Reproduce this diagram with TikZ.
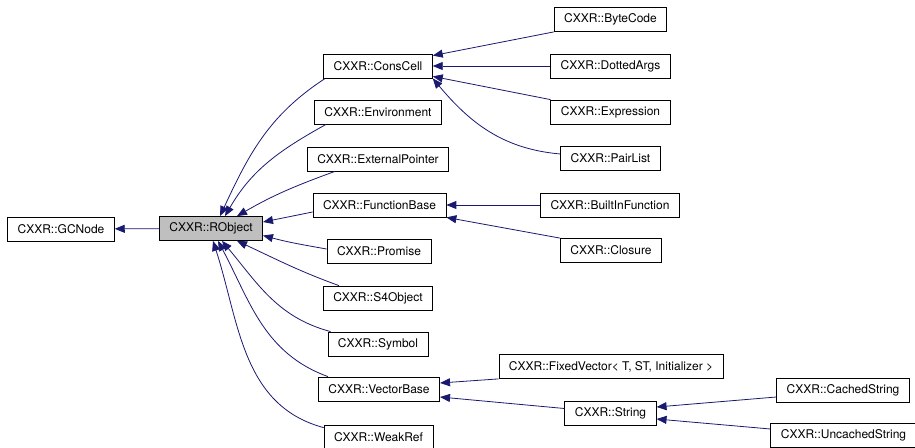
\documentclass[tikz,border=0pt]{standalone}
\usepackage{fontspec}
\setmainfont{TeX Gyre Heros}
\usepackage{xcolor}
\usepackage{tikz}
\usetikzlibrary{arrows.meta,positioning}
\definecolor{edgeblue}{HTML}{191970}
\definecolor{basegray}{HTML}{BFBFBF}

\begin{document}
\begin{tikzpicture}[x=1pt,y=-1pt,
    cls/.style={draw, line width=0.8pt, inner xsep=10pt, inner ysep=0pt, minimum height=24pt, font=\fontsize{12}{14}\selectfont},
    edge/.style={draw=edgeblue, line width=0.8pt, -{Triangle[length=10pt,width=8pt]}}]
    \useasboundingbox (0,0) rectangle (915,447);

    \node[cls] (gcnode) at (61,229) {CXXR::GCNode};
    \node[cls, fill=basegray] (robj) at (211,228.5) {CXXR::RObject};

    \node[cls] (cons) at (378,66) {CXXR::ConsCell};
    \node[cls] (env) at (378,112) {CXXR::Environment};
    \node[cls] (ext) at (378,159) {CXXR::ExternalPointer};
    \node[cls] (fb) at (379.5,205) {CXXR::FunctionBase};
    \node[cls] (prom) at (379,251) {CXXR::Promise};
    \node[cls] (s4) at (378,298) {CXXR::S4Object};
    \node[cls] (sym) at (378,344) {CXXR::Symbol};
    \node[cls] (vb) at (379,389) {CXXR::VectorBase};
    \node[cls] (weak) at (378.5,437) {CXXR::WeakRef};

    \node[cls] (bc) at (610.5,19.5) {CXXR::ByteCode};
    \node[cls] (da) at (610.5,66) {CXXR::DottedArgs};
    \node[cls] (expr) at (610.5,112) {CXXR::Expression};
    \node[cls] (pl) at (610.5,158) {CXXR::PairList};
    \node[cls] (bif) at (610,205) {CXXR::BuiltInFunction};
    \node[cls] (clo) at (611,250.5) {CXXR::Closure};
    \node[cls] (fv) at (611,366.5) {CXXR::FixedVector< T, ST, Initializer >};
    \node[cls] (str) at (610.5,413) {CXXR::String};
    \node[cls] (cs) at (843,390) {CXXR::CachedString};
    \node[cls] (us) at (843.5,435) {CXXR::UncachedString};

    \draw[edge] (robj) -- (gcnode);

    \draw[edge] ([xshift=2pt]cons.south west) to[out=213,in=65] ([xshift=9pt]robj.north);
    \draw[edge] ([xshift=12pt]env.south west) to[out=209,in=60] ([xshift=14pt]robj.north);
    \draw[edge] ([xshift=28pt]ext.south west) to[out=200,in=30] ([xshift=26pt]robj.north);
    \draw[edge] ([yshift=-7pt]fb.west) -- ([yshift=6.5pt]robj.east);
    \draw[edge] ([yshift=2pt]prom.west) to[out=170,in=-15] ([yshift=-7pt]robj.east);
    \draw[edge] ([xshift=16pt]s4.north west) to[out=160,in=-25] ([xshift=26pt]robj.south);
    \draw[edge] ([xshift=3pt]sym.north west) to[out=165,in=-50] ([xshift=11pt]robj.south);
    \draw[edge] ([xshift=10pt]vb.north west) to[out=160,in=-62] ([xshift=7pt]robj.south);
    \draw[edge] ([yshift=-3pt]weak.north west) to[out=165,in=-72] ([xshift=2pt]robj.south);

    \draw[edge] (bc.south west) -- ([yshift=-2pt]cons.north east);
    \draw[edge] (da) -- (cons);
    \draw[edge] (expr.north west) -- ([yshift=2pt]cons.south east);
    \draw[edge] ([yshift=4pt]pl.west) to[out=175,in=-50] (cons.south east);

    \draw[edge] (bif) -- (fb);
    \draw[edge] (clo.north west) -- (fb.south east);

    \draw[edge] (fv.south west) -- ([yshift=6pt]vb.east);
    \draw[edge] ([yshift=4.5pt]str.west) -- ([yshift=-8pt]vb.east);
    \draw[edge] ([yshift=-7pt]cs.west) -- ([yshift=6pt]str.east);
    \draw[edge] ([yshift=6pt]us.west) -- ([yshift=-6pt]str.east);
\end{tikzpicture}
\end{document}
